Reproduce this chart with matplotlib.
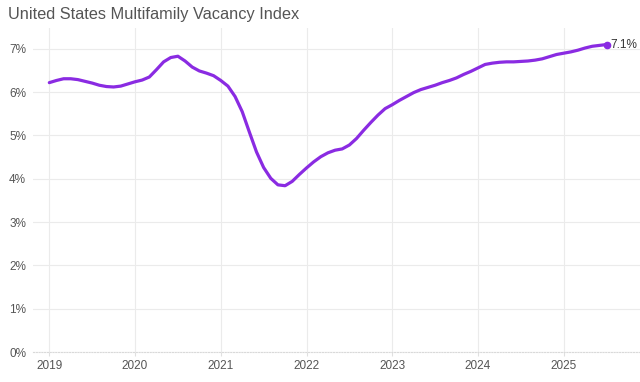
import numpy as np
import matplotlib as mpl
mpl.use('Agg')
import matplotlib.pyplot as plt

mpl.rcParams['font.family'] = ['Liberation Sans', 'DejaVu Sans']

# monthly vacancy index, Jan 2019 .. Jul 2025 (%)
vacancy = [
    6.22, 6.27, 6.31, 6.31, 6.29, 6.25, 6.21, 6.16, 6.13, 6.12, 6.14, 6.19,  # 2019
    6.24, 6.28, 6.35, 6.52, 6.70, 6.80, 6.83, 6.72, 6.58, 6.49, 6.44, 6.38,  # 2020
    6.27, 6.14, 5.90, 5.55, 5.08, 4.62, 4.26, 4.01, 3.86, 3.84, 3.94, 4.10,  # 2021
    4.25, 4.39, 4.51, 4.60, 4.66, 4.69, 4.78, 4.93, 5.12, 5.30, 5.47, 5.62,  # 2022
    5.71, 5.81, 5.90, 5.99, 6.06, 6.11, 6.16, 6.22, 6.27, 6.33, 6.41, 6.48,  # 2023
    6.56, 6.64, 6.67, 6.69, 6.70, 6.70, 6.71, 6.72, 6.74, 6.77, 6.82, 6.87,  # 2024
    6.90, 6.93, 6.97, 7.02, 7.06, 7.08, 7.10,                                # 2025
]
start_year = 2019
year_ticks = [2019, 2020, 2021, 2022, 2023, 2024, 2025]
pct_ticks = [0, 1, 2, 3, 4, 5, 6, 7]
title = "United States Multifamily Vacancy Index"
last_label = "7.1%"

t = start_year + np.arange(len(vacancy)) / 12.0
v = np.array(vacancy)

fig = plt.figure(figsize=(6.4, 3.82), dpi=100)
ax = fig.add_axes([0.0516, 0.0785, 0.9484, 0.848])

line_col = '#8a2be2'
ax.plot(t, v, color=line_col, linewidth=2.3, solid_capstyle='round', zorder=3)
ax.plot(t[-1], v[-1], 'o', color=line_col, markersize=4.5, zorder=4)
ax.annotate(last_label, (t[-1], v[-1]), xytext=(3, 0), textcoords='offset points',
            ha='left', va='center', fontsize=8.5, color='#333333')

ax.set_xlim(2018.81, 2025.89)
ax.set_ylim(0, 7.48)
ax.set_xticks(year_ticks)
ax.set_xticklabels([str(y) for y in year_ticks])
ax.set_yticks(pct_ticks)
ax.set_yticklabels(['{:d}%'.format(p) for p in pct_ticks])

ax.grid(True, color='#ebebeb', linewidth=0.8, zorder=0)
for s in ['top', 'right', 'left']:
    ax.spines[s].set_visible(False)
ax.spines['bottom'].set_color('#d9d9d9')
ax.spines['bottom'].set_linestyle((0, (1, 1.5)))
ax.spines['bottom'].set_linewidth(0.8)

ax.tick_params(axis='x', length=3, color='#e0e0e0', pad=3, labelsize=8.5, labelcolor='#555555')
ax.tick_params(axis='y', length=0, pad=5, labelsize=8.5, labelcolor='#555555')

fig.text(0.0125, 0.963, title, fontsize=11.8, color='#555555', ha='left', va='center')

fig.savefig('out.png', dpi=100)
